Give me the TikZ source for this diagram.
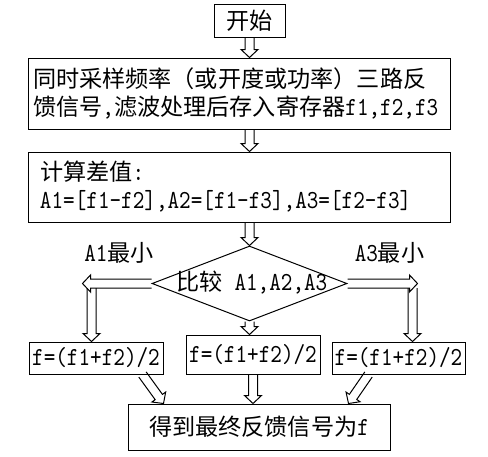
\documentclass[tikz,border=0pt]{standalone}
\usepackage{fontspec}
\newfontfamily\cjk{Noto Sans CJK SC}[Scale=0.89]
\newfontfamily\lat{lmmono10-regular.otf}[FakeStretch=0.85]
\newcommand\zh[1]{{\cjk #1}}
\usetikzlibrary{shapes.geometric,calc}
\tikzset{
  txt/.style={font=\fontsize{26pt}{28pt}\selectfont\lat},
  box/.style={draw, line width=1pt, inner ysep=0pt, txt},
  lbl/.style={txt, inner sep=0pt},
  harrow/.style={draw, line width=1pt, line join=miter},
}
\newcommand\holarrow[2]{%
  \path ($(#2)!8pt!(#1)$) coordinate (hb);
  \draw[harrow] ($(#1)!4.5pt!90:(#2)$) -- ($(hb)!4.5pt!90:(#2)$) -- ($(hb)!8.5pt!90:(#2)$)
    -- (#2) -- ($(hb)!8.5pt!-90:(#2)$) -- ($(hb)!4.5pt!-90:(#2)$) -- ($(#1)!4.5pt!-90:(#2)$);
}
\begin{document}
\begin{tikzpicture}[x=1pt,y=-1pt]
\fill[white] (0,0) rectangle (488,456);
\useasboundingbox (0,0) rectangle (488,456);

\node[box, minimum width=71pt, minimum height=33pt] (start) at (249.5,20.5) {\zh{开始}};
\node[box, text width=412pt, inner xsep=5pt, minimum height=71pt, align=left] (box2) at (239,93.5)
  {\zh{同时采样频率（或开度或功率）三路反}\\\zh{馈信号},\zh{滤波处理后存入寄存器}f1,f2,f3};
\node[box, text width=398pt, inner xsep=12pt, minimum height=70pt, align=left] (box3) at (239,187)
  {\zh{计算差值}:\\A1=[f1-f2],A2=[f1-f3],A3=[f2-f3]};
\node[draw, line width=1pt, diamond, minimum width=195pt, minimum height=75pt, inner sep=0pt] (dia) at (249.5,283.5) {};
\node[lbl] (dt) at (252,283) {\zh{比较} A1,A2,A3};
\node[box, minimum width=134pt, minimum height=32pt, inner xsep=0pt] (boxL) at (96,358) {f=(f1+f2)/2};
\node[box, minimum width=134pt, minimum height=39pt, inner xsep=0pt] (boxM) at (253,354.5) {f=(f1+f2)/2};
\node[box, minimum width=133pt, minimum height=32pt, inner xsep=0pt] (boxR) at (398.5,358) {f=(f1+f2)/2};
\node[box, minimum width=262pt, minimum height=46pt] (final) at (259,427) {\zh{得到最终反馈信号为}f};
\node[lbl] (l1) at (119,253) {A1\zh{最小}};
\node[lbl] (l3) at (389.5,253) {A3\zh{最小}};

\coordinate (a1s) at (start.south);
\coordinate (a1e) at (start.south |- box2.north);
\coordinate (a2s) at (start.south |- box2.south);
\coordinate (a2e) at (start.south |- box3.north);
\coordinate (a3s) at (dia.north |- box3.south);
\coordinate (a3e) at (dia.north);
\coordinate (lTip) at ($(dia.west)+(-69,0)$);
\coordinate (lDs) at (91.5,288);
\coordinate (lDe) at (lDs |- boxL.north);
\coordinate (rTip) at ($(dia.east)+(70,0)$);
\coordinate (rDs) at (412.5,288);
\coordinate (rDe) at (rDs |- boxR.north);
\coordinate (mS) at (dia.south);
\coordinate (mE) at (dia.south |- boxM.north);
\coordinate (bLs) at ($(boxL.south east)+(-21,0)$);
\coordinate (bLe) at ($(final.north west)+(36,0)$);
\coordinate (bMs) at (boxM.south);
\coordinate (bMe) at (boxM.south |- final.north);
\coordinate (bRs) at ($(boxR.south west)+(37,0)$);
\coordinate (bRe) at ($(final.north east)+(-42,0)$);

\holarrow{a1s}{a1e}
\holarrow{a2s}{a2e}
\holarrow{a3s}{a3e}
\holarrow{dia.west}{lTip}
\holarrow{lDs}{lDe}
\holarrow{dia.east}{rTip}
\holarrow{rDs}{rDe}
\holarrow{mS}{mE}
\holarrow{bLs}{bLe}
\holarrow{bMs}{bMe}
\holarrow{bRs}{bRe}
\end{tikzpicture}
\end{document}
